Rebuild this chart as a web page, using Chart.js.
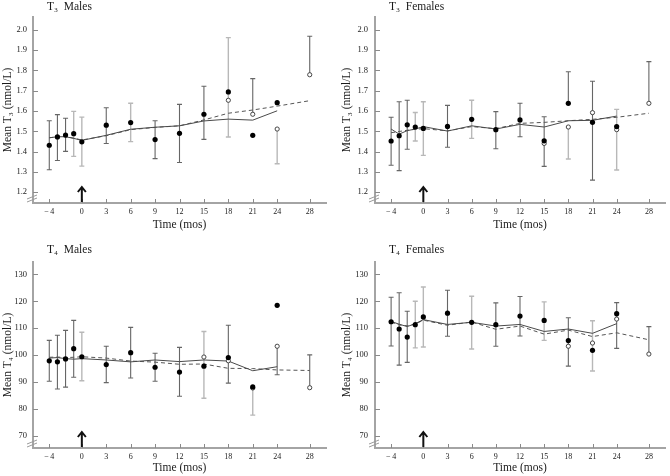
<!DOCTYPE html>
<html>
<head>
<meta charset="utf-8">
<script src="https://cdn.jsdelivr.net/npm/chart.js@4.4.0/dist/chart.umd.min.js"></script>
<style>
  html, body { margin: 0; padding: 0; background: #fff; }
  #wrap { position: relative; width: 670px; height: 476px; }
  #wrap canvas { position: absolute; }
</style>
</head>
<body>
<div id="wrap">
  <canvas id="t3m" width="335" height="236" style="left:0;top:0"></canvas>
  <canvas id="t3f" width="335" height="236" style="left:335px;top:0"></canvas>
  <canvas id="t4m" width="335" height="240" style="left:0;top:236px"></canvas>
  <canvas id="t4f" width="335" height="240" style="left:335px;top:236px"></canvas>
</div>
<script>
'use strict';

//===== shared axis data =====//
var months = [-4, -3, -2, -1, 0, 3, 6, 9, 12, 15, 18, 21, 24];
var fitMonths = [-4, -3, -2, -1, 0, 3, 6, 9, 12, 15, 18, 21, 24, 28];
var monthTicks = [-4, 0, 3, 6, 9, 12, 15, 18, 21, 24, 28];
var t3Ticks = [1.2, 1.3, 1.4, 1.5, 1.6, 1.7, 1.8, 1.9, 2.0];
var t4Ticks = [70, 80, 90, 100, 110, 120, 130];
var treatmentMonth = 0;

//===== T3 males =====//
var t3MalesMean = [1.431, 1.472, 1.481, 1.488, 1.448, 1.530, 1.543, 1.459, 1.490, 1.584, 1.694, 1.480, 1.641];
var t3MalesOpenX = [18, 21, 24, 28];
var t3MalesOpenY = [1.653, 1.584, 1.511, 1.779];
var t3MalesSolid = [1.468, 1.473, 1.473, 1.465, 1.455, 1.480, 1.510, 1.520, 1.527, 1.551, 1.560, 1.555, 1.601];
var t3MalesDashed = [1.468, 1.472, 1.474, 1.466, 1.457, 1.478, 1.508, 1.519, 1.527, 1.556, 1.589, 1.605, 1.624, 1.651];
// [month, low, high, group]  group a = dark bar, b = light bar
var t3MalesErr = [
  [-4, 1.310, 1.552, 'a'], [-3, 1.356, 1.582, 'a'], [-2, 1.401, 1.564, 'a'], [-1, 1.376, 1.598, 'b'],
  [0, 1.328, 1.570, 'b'], [3, 1.440, 1.616, 'a'], [6, 1.449, 1.638, 'b'], [9, 1.365, 1.552, 'a'],
  [12, 1.346, 1.633, 'a'], [15, 1.460, 1.722, 'a'], [18, 1.472, 1.962, 'b'], [21, 1.584, 1.760, 'a'],
  [24, 1.340, 1.511, 'b'], [28, 1.779, 1.969, 'a']
];

//===== T3 females =====//
var t3FemalesMean = [1.452, 1.478, 1.532, 1.521, 1.514, 1.524, 1.559, 1.508, 1.556, 1.453, 1.638, 1.544, 1.523];
var t3FemalesOpenX = [15, 18, 21, 24, 28];
var t3FemalesOpenY = [1.440, 1.521, 1.592, 1.508, 1.638];
var t3FemalesSolid = [1.511, 1.486, 1.503, 1.511, 1.523, 1.501, 1.527, 1.511, 1.534, 1.521, 1.552, 1.554, 1.575];
var t3FemalesDashed = [1.493, 1.499, 1.505, 1.510, 1.513, 1.502, 1.523, 1.513, 1.539, 1.544, 1.552, 1.559, 1.569, 1.589];
var t3FemalesErr = [
  [-4, 1.332, 1.569, 'a'], [-3, 1.306, 1.646, 'a'], [-2, 1.411, 1.653, 'a'], [-1, 1.452, 1.593, 'b'],
  [0, 1.381, 1.646, 'b'], [3, 1.421, 1.628, 'a'], [6, 1.465, 1.653, 'b'], [9, 1.414, 1.597, 'a'],
  [12, 1.473, 1.638, 'a'], [15, 1.327, 1.572, 'a'], [18, 1.638, 1.794, 'a'], [18, 1.363, 1.521, 'b'],
  [21, 1.259, 1.747, 'a'], [24, 1.309, 1.608, 'b'], [28, 1.638, 1.844, 'a']
];

//===== T4 males =====//
var t4MalesMean = [97.9, 97.5, 98.6, 102.4, 99.4, 96.5, 100.9, 95.5, 93.7, 95.9, 99.1, 88.2, 118.5];
var t4MalesOpenX = [15, 18, 21, 24, 28];
var t4MalesOpenY = [99.3, 97.9, 87.8, 103.3, 87.9];
var t4MalesSolid = [98.9, 99.1, 98.7, 98.5, 98.7, 98.2, 97.5, 98.2, 97.6, 98.2, 97.8, 94.2, 95.7];
var t4MalesDashed = [99.2, 99.3, 99.1, 99.2, 99.4, 98.9, 97.8, 97.4, 96.6, 96.7, 95.1, 95.0, 94.5, 94.3];
var t4MalesErr = [
  [-4, 90.3, 105.5, 'a'], [-3, 87.4, 107.4, 'a'], [-2, 88.1, 109.2, 'a'], [-1, 91.8, 112.9, 'a'],
  [0, 90.5, 108.5, 'b'], [3, 89.8, 103.3, 'a'], [6, 91.5, 110.3, 'a'], [9, 90.3, 100.7, 'a'],
  [12, 84.7, 102.9, 'a'], [15, 84.0, 108.8, 'b'], [18, 89.6, 111.1, 'a'], [21, 77.7, 88.2, 'b'],
  [24, 92.7, 103.3, 'a'], [28, 87.9, 100.1, 'a']
];

//===== T4 females =====//
var t4FemalesMean = [112.4, 109.7, 106.7, 111.3, 114.2, 115.6, 112.2, 111.3, 114.5, 112.9, 105.4, 101.8, 115.4];
var t4FemalesOpenX = [18, 21, 24, 28];
var t4FemalesOpenY = [103.3, 104.5, 113.4, 100.4];
var t4FemalesSolid = [112.5, 111.5, 110.6, 111.7, 113.2, 111.4, 112.2, 110.8, 111.4, 108.8, 109.7, 108.1, 111.7];
var t4FemalesDashed = [112.3, 111.2, 110.9, 111.5, 113.0, 111.1, 112.3, 109.6, 110.8, 107.8, 109.3, 106.9, 108.3, 105.7];
var t4FemalesErr = [
  [-4, 103.4, 121.5, 'a'], [-3, 96.3, 123.2, 'a'], [-2, 97.3, 116.3, 'a'], [-1, 102.7, 120.0, 'b'],
  [0, 103.0, 125.3, 'b'], [3, 107.0, 124.1, 'a'], [6, 102.3, 121.9, 'b'], [9, 103.3, 119.4, 'a'],
  [12, 107.1, 121.8, 'a'], [15, 105.5, 119.8, 'b'], [18, 95.9, 113.9, 'a'], [21, 94.1, 112.8, 'b'],
  [24, 102.5, 119.5, 'a'], [28, 100.4, 110.6, 'a']
];

//===== helpers =====//
var SERIF = '"Liberation Serif", "DejaVu Serif", serif';

function pts(xs, ys) {
  return xs.map(function (x, i) { return { x: x, y: ys[i] }; });
}

// is the end of a bar sitting on one of the plotted dots? (then no cap there)
function onDot(p, x, y) {
  var i = months.indexOf(x);
  if (i >= 0 && Math.abs(p.mean[i] - y) < 1e-9) return true;
  for (var j = 0; j < p.openX.length; j++) {
    if (p.openX[j] === x && Math.abs(p.openY[j] - y) < 1e-9) return true;
  }
  return false;
}

function decor(p) {
  return {
    id: 'decor',
    beforeDatasetsDraw: function (chart) {
      var ctx = chart.ctx, xs = chart.scales.x, ys = chart.scales.y;
      ctx.save();
      p.err.forEach(function (e) {
        var px = xs.getPixelForValue(e[0]);
        var yLo = ys.getPixelForValue(e[1]);
        var yHi = ys.getPixelForValue(e[2]);
        ctx.strokeStyle = e[3] === 'a' ? '#666' : '#b8b8b8';
        ctx.lineWidth = e[3] === 'a' ? 1.1 : 1.4;
        ctx.beginPath();
        ctx.moveTo(px, yLo);
        ctx.lineTo(px, yHi);
        if (!onDot(p, e[0], e[1])) { ctx.moveTo(px - 2.5, yLo); ctx.lineTo(px + 2.5, yLo); }
        if (!onDot(p, e[0], e[2])) { ctx.moveTo(px - 2.5, yHi); ctx.lineTo(px + 2.5, yHi); }
        ctx.stroke();
      });
      ctx.restore();
    },
    afterDraw: function (chart) {
      var ctx = chart.ctx, xs = chart.scales.x, ys = chart.scales.y, a = chart.chartArea;
      ctx.save();
      // inward tick marks
      ctx.strokeStyle = '#8a8a8a';
      ctx.lineWidth = 1;
      ctx.beginPath();
      monthTicks.forEach(function (v) {
        var px = Math.round(xs.getPixelForValue(v)) + 0.5;
        ctx.moveTo(px, a.bottom);
        ctx.lineTo(px, a.bottom - 4);
      });
      p.yTicks.forEach(function (v) {
        var py = Math.round(ys.getPixelForValue(v)) + 0.5;
        ctx.moveTo(a.left, py);
        ctx.lineTo(a.left + 5, py);
      });
      ctx.stroke();

      // axis break marks
      ctx.strokeStyle = '#9a9a9a';
      ctx.beginPath();
      ctx.moveTo(a.left - 6, a.bottom - 4); ctx.lineTo(a.left + 4, a.bottom - 8);
      ctx.moveTo(a.left - 6, a.bottom - 1); ctx.lineTo(a.left + 4, a.bottom - 5);
      ctx.stroke();

      // arrow at start of treatment
      var ax = xs.getPixelForValue(treatmentMonth);
      ctx.strokeStyle = '#111';
      ctx.lineWidth = 2;
      ctx.beginPath();
      ctx.moveTo(ax, a.bottom - 1);
      ctx.lineTo(ax, a.bottom - 16);
      ctx.moveTo(ax - 4, a.bottom - 11);
      ctx.lineTo(ax, a.bottom - 16);
      ctx.lineTo(ax + 4, a.bottom - 11);
      ctx.stroke();

      // panel title
      ctx.fillStyle = '#1a1a1a';
      ctx.font = '11.5px ' + SERIF;
      ctx.textBaseline = 'alphabetic';
      ctx.fillText(p.title, a.left + 14, a.top - p.titleGap);
      ctx.restore();
    }
  };
}

function makePanel(id, p) {
  var fnt = function (s) { return { family: SERIF, size: s }; };
  return new Chart(document.getElementById(id), {
    type: 'scatter',
    data: {
      datasets: [
        { data: pts(months, p.mean), pointRadius: 2.6, pointBackgroundColor: '#000', pointBorderWidth: 0 },
        { data: pts(p.openX, p.openY), pointRadius: 2.1, pointBackgroundColor: '#fff', pointBorderColor: '#444', pointBorderWidth: 1 },
        { data: pts(months, p.solid), showLine: true, pointRadius: 0, borderColor: '#4a4a4a', borderWidth: 1 },
        { data: pts(fitMonths, p.dashed), showLine: true, pointRadius: 0, borderColor: '#555', borderWidth: 1, borderDash: [4, 3] }
      ]
    },
    options: {
      responsive: false,
      animation: false,
      events: [],
      layout: { padding: { top: p.top, right: p.right, left: 0, bottom: 0 } },
      plugins: { legend: { display: false }, tooltip: { enabled: false } },
      scales: {
        x: {
          type: 'linear', min: -6, max: 30,
          afterBuildTicks: function (s) { s.ticks = monthTicks.map(function (v) { return { value: v }; }); },
          afterFit: function (s) { s.height = p.xH; },
          grid: { display: false, drawTicks: false },
          border: { display: true, color: '#a4a4a4', width: 2 },
          ticks: {
            padding: 4, color: '#222', font: fnt(8), maxRotation: 0, autoSkip: false,
            callback: function (v) { return v < 0 ? '\u2212\u2009' + (-v) : String(v); }
          },
          title: { display: true, text: 'Time (mos)', color: '#1a1a1a', font: fnt(11.5), padding: { top: 0, bottom: p.xTitlePad } }
        },
        y: {
          type: 'linear', min: p.yMin, max: p.yMax,
          afterBuildTicks: function (s) { s.ticks = p.yTicks.map(function (v) { return { value: v }; }); },
          afterFit: function (s) { s.width = p.yW; },
          grid: { display: false, drawTicks: false },
          border: { display: true, color: '#a4a4a4', width: 2 },
          ticks: { padding: p.yLabelPad, color: '#222', font: fnt(8.5), autoSkip: false, callback: p.fmt },
          title: { display: true, text: p.yTitle, color: '#1a1a1a', font: fnt(11.5), padding: { top: p.yTitlePad, bottom: 0 } }
        }
      }
    },
    plugins: [decor(p)]
  });
}

var fmtT3 = function (v) { return v.toFixed(1); };
var fmtT4 = function (v) { return String(v); };

makePanel('t3m', {
  title: 'T\u2083  Males', yTitle: 'Mean T\u2083 (nmol/L)',
  mean: t3MalesMean, openX: t3MalesOpenX, openY: t3MalesOpenY,
  solid: t3MalesSolid, dashed: t3MalesDashed, err: t3MalesErr,
  yTicks: t3Ticks, yMin: 1.146, yMax: 2.064, fmt: fmtT3,
  top: 17, right: 9, xH: 33, yW: 33, yLabelPad: 6, yTitlePad: 1, xTitlePad: 4, titleGap: 7
});
makePanel('t3f', {
  title: 'T\u2083  Females', yTitle: 'Mean T\u2083 (nmol/L)',
  mean: t3FemalesMean, openX: t3FemalesOpenX, openY: t3FemalesOpenY,
  solid: t3FemalesSolid, dashed: t3FemalesDashed, err: t3FemalesErr,
  yTicks: t3Ticks, yMin: 1.146, yMax: 2.064, fmt: fmtT3,
  top: 17, right: 2, xH: 33, yW: 40, yLabelPad: 7, yTitlePad: 5, xTitlePad: 4, titleGap: 7
});
makePanel('t4m', {
  title: 'T\u2084  Males', yTitle: 'Mean T\u2084 (nmol/L)',
  mean: t4MalesMean, openX: t4MalesOpenX, openY: t4MalesOpenY,
  solid: t4MalesSolid, dashed: t4MalesDashed, err: t4MalesErr,
  yTicks: t4Ticks, yMin: 65.5, yMax: 134.6, fmt: fmtT4,
  top: 26, right: 9, xH: 28, yW: 33, yLabelPad: 6, yTitlePad: 1, xTitlePad: 1, titleGap: 9
});
makePanel('t4f', {
  title: 'T\u2084  Females', yTitle: 'Mean T\u2084 (nmol/L)',
  mean: t4FemalesMean, openX: t4FemalesOpenX, openY: t4FemalesOpenY,
  solid: t4FemalesSolid, dashed: t4FemalesDashed, err: t4FemalesErr,
  yTicks: t4Ticks, yMin: 65.5, yMax: 134.6, fmt: fmtT4,
  top: 26, right: 2, xH: 28, yW: 40, yLabelPad: 7, yTitlePad: 5, xTitlePad: 1, titleGap: 9
});
</script>
</body>
</html>
